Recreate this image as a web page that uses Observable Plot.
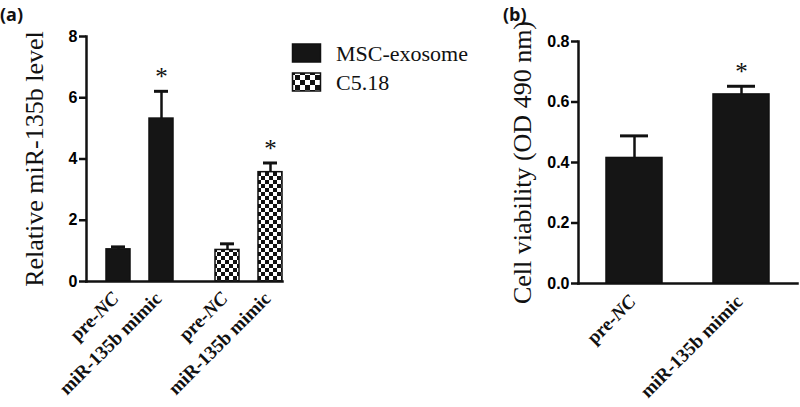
<!DOCTYPE html>
<html>
<head>
<meta charset="utf-8">
<script src="https://cdn.jsdelivr.net/npm/d3@7"></script>
<script src="https://cdn.jsdelivr.net/npm/@observablehq/plot@0.6"></script>
<style>
  html, body { margin: 0; padding: 0; background: #fff; }
  #wrap { position: relative; width: 800px; height: 407px; overflow: hidden; background: #fff; }
  .panel { position: absolute; top: 0; }
  .panel svg { background: transparent !important; overflow: visible; }
  #overlay { position: absolute; left: 0; top: 0; pointer-events: none; }
  g[aria-label="y-axis label"] text { font-family: "Liberation Serif", "Times New Roman", serif; font-weight: 400; font-size: 26px; fill: #111; }
  g[aria-label="x-axis tick label"] text { font-family: "Liberation Serif", "Times New Roman", serif; font-weight: 700; font-size: 19px; fill: #111; }
</style>
</head>
<body>
<div id="wrap">
  <div id="pa" class="panel" style="left:0px"></div>
  <div id="pb" class="panel" style="left:480px"></div>
  <svg id="overlay" width="800" height="407"></svg>
</div>
<script>
// ---------- data ----------
const groupsA = ["MSC-exosome", "C5.18"];
const treatments = ["pre-NC", "miR-135b mimic"];
// order: MSC pre-NC, MSC mimic, C5.18 pre-NC, C5.18 mimic
const levelMean = [1.05, 5.32, 1.03, 3.57];
const levelErr = [0.08, 0.89, 0.20, 0.30];
const levelSig = [false, true, false, true];
const viabMean = [0.415, 0.625];
const viabErr = [0.073, 0.027];
const viabSig = [false, true];
const ticksA = [0, 2, 4, 6, 8];
const ticksB = [0, 0.2, 0.4, 0.6, 0.8];
const labelA = "Relative miR-135b level";
const labelB = "Cell viability (OD 490 nm)";
const panelTags = ["(a)", "(b)"];

const NS = "http://www.w3.org/2000/svg";
function el(name, attrs, parent) {
  const e = document.createElementNS(NS, name);
  for (const k in attrs) e.setAttribute(k, attrs[k]);
  if (parent) parent.appendChild(e);
  return e;
}
function addChecker(svg, id, cell) {
  const defs = el("defs", {});
  const p = el("pattern", {id, patternUnits: "userSpaceOnUse", width: 2 * cell, height: 2 * cell}, defs);
  el("rect", {x: 0, y: 0, width: 2 * cell, height: 2 * cell, fill: "#fff"}, p);
  el("rect", {x: 0, y: 0, width: cell, height: cell, fill: "#111"}, p);
  el("rect", {x: cell, y: cell, width: cell, height: cell, fill: "#111"}, p);
  svg.insertBefore(defs, svg.firstChild);
}
function italicNC(svg) {
  svg.querySelectorAll('g[aria-label="x-axis tick label"] text').forEach(t => {
    const s = t.textContent;
    if (s.endsWith("NC")) {
      t.textContent = s.slice(0, -2);
      const ts = el("tspan", {"font-style": "italic"}, t);
      ts.textContent = "NC";
    }
  });
}
const yTickFont = {fontSize: 16, fontWeight: "bold", fontFamily: "Liberation Sans, Arial, sans-serif"};

// ---------- panel (a) ----------
const rowsA = levelMean.map((m, i) => ({
  group: groupsA[Math.floor(i / 2)],
  treat: treatments[i % 2],
  mean: m,
  top: m + levelErr[i],
  sig: levelSig[i]
}));

const svgA = Plot.plot({
  width: 480, height: 407,
  marginLeft: 86, marginRight: 198, marginTop: 36, marginBottom: 126,
  fx: {domain: groupsA, paddingInner: 0.202, paddingOuter: 0, axis: null, label: null},
  x: {domain: treatments, paddingInner: 0.448, paddingOuter: 0.224, align: 1},
  y: {domain: [0, 8]},
  color: {type: "ordinal", domain: groupsA, range: ["#151515", "url(#checkA)"]},
  marks: [
    Plot.barY(rowsA, {fx: "group", x: "treat", y: "mean", fill: "group", stroke: "#111", strokeWidth: 1.5}),
    Plot.ruleX(rowsA, {fx: "group", x: "treat", y1: "mean", y2: "top", stroke: "#111", strokeWidth: 2.5}),
    Plot.tickY(rowsA, {fx: "group", x: "treat", y: "top", stroke: "#111", strokeWidth: 3, insetLeft: 5, insetRight: 5}),
    Plot.text(rowsA.filter(d => d.sig), {fx: "group", x: "treat", y: "top", text: () => "*", lineAnchor: "bottom", dy: -6, fontSize: 25, fontFamily: "Liberation Serif", fill: "#111"}),
    Plot.frame({anchor: "bottom", facet: "super", stroke: "#111", strokeWidth: 2.5}),
    Plot.frame({anchor: "left", facet: "super", stroke: "#111", strokeWidth: 2.5}),
    Plot.axisY({ticks: ticksA, tickSize: 7, tickPadding: 2, stroke: "#111", strokeWidth: 2.5, ...yTickFont, label: labelA, labelArrow: "none", labelAnchor: "center", labelOffset: 62, tickFormat: d3.format("d")}),
    Plot.axisX({tickSize: 0, tickPadding: 14, tickRotate: -45, dx: -3, label: null})
  ]
});
addChecker(svgA, "checkA", 4);
italicNC(svgA);
document.getElementById("pa").appendChild(svgA);

// ---------- panel (b) ----------
const rowsB = viabMean.map((m, i) => ({treat: treatments[i], mean: m, top: m + viabErr[i], sig: viabSig[i]}));

const svgB = Plot.plot({
  width: 320, height: 407,
  marginLeft: 98, marginRight: 3, marginTop: 41, marginBottom: 124,
  x: {domain: treatments, paddingInner: 0.479, paddingOuter: 0.26},
  y: {domain: [0, 0.8]},
  marks: [
    Plot.barY(rowsB, {x: "treat", y: "mean", fill: "#151515", stroke: "#111", strokeWidth: 1.5}),
    Plot.ruleX(rowsB, {x: "treat", y1: "mean", y2: "top", stroke: "#111", strokeWidth: 2.5}),
    Plot.tickY(rowsB, {x: "treat", y: "top", stroke: "#111", strokeWidth: 3, insetLeft: 14, insetRight: 14}),
    Plot.text(rowsB.filter(d => d.sig), {x: "treat", y: "top", text: () => "*", lineAnchor: "bottom", dy: -6, fontSize: 25, fontFamily: "Liberation Serif", fill: "#111"}),
    Plot.frame({anchor: "bottom", stroke: "#111", strokeWidth: 2.5}),
    Plot.frame({anchor: "left", stroke: "#111", strokeWidth: 2.5}),
    Plot.axisY({ticks: ticksB, tickSize: 7, tickPadding: 2, stroke: "#111", strokeWidth: 2.5, ...yTickFont, label: labelB, labelArrow: "none", labelAnchor: "center", labelOffset: 66, tickFormat: d3.format(".1f")}),
    Plot.axisX({tickSize: 0, tickPadding: 15, tickRotate: -45, dx: -2, label: null})
  ]
});
italicNC(svgB);
document.getElementById("pb").appendChild(svgB);

// ---------- overlay: panel tags and legend ----------
const ov = document.getElementById("overlay");
addChecker(ov, "checkL", 5);
const tagX = [0, 503];
panelTags.forEach((t, i) => {
  const tx = el("text", {x: tagX[i], y: 21, "font-family": "Open Sans, Liberation Sans, sans-serif", "font-weight": 700, "font-size": 18, fill: "#111"}, ov);
  tx.textContent = t;
});
const legY = [44, 73];
groupsA.forEach((g, i) => {
  el("rect", {x: 292.5, y: legY[i], width: 28, height: 18, fill: i === 0 ? "#151515" : "url(#checkL)", stroke: "#111", "stroke-width": 1.5}, ov);
  const tx = el("text", {x: 336, y: legY[i] + 17, "font-family": "Liberation Serif, Times New Roman, serif", "font-size": 22, fill: "#111"}, ov);
  tx.textContent = g;
});
</script>
</body>
</html>
